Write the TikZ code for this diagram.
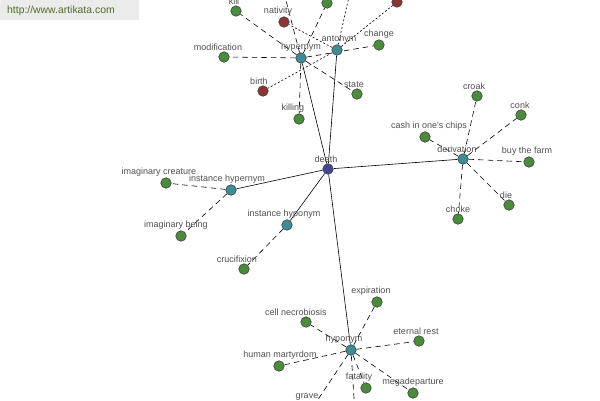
\documentclass[tikz,border=0pt]{standalone}
\usepackage{fontspec}
\setmainfont{Liberation Sans}
\newfontfamily\lblfont{Liberation Sans}
\usetikzlibrary{backgrounds}
\definecolor{leafgreen}{HTML}{4A8C3C}
\definecolor{antred}{HTML}{8C3535}
\definecolor{relteal}{HTML}{408C96}
\definecolor{rootblue}{HTML}{464696}
\definecolor{lblgray}{HTML}{505050}
\definecolor{wmgray}{HTML}{EBEBEB}
\definecolor{wmgreen}{HTML}{4E6B2C}
\begin{document}
\begin{tikzpicture}[x=1pt,y=-1pt,
  dot/.style={circle, draw=black!75, line width=0.6pt, minimum size=10.5pt, inner sep=0pt},
  leaf/.style={dot, fill=leafgreen},
  antleaf/.style={dot, fill=antred},
  rel/.style={dot, fill=relteal},
  root/.style={dot, fill=rootblue},
  lbl/.style={font=\lblfont\fontsize{9}{10}\selectfont, text=lblgray, inner sep=1pt},
  link/.style={draw=black, line width=0.6pt},
  dlink/.style={draw=black, line width=0.6pt, dash pattern=on 5.5pt off 4pt},
  alink/.style={draw=black, line width=0.6pt, dash pattern=on 2pt off 2pt}]
\useasboundingbox (0,0) rectangle (600,400);
% watermark
\fill[wmgray] (0,0) rectangle (139,20);
\node[font=\fontsize{10.4}{12}\selectfont, text=wmgreen, anchor=west, inner sep=0pt] (wm) at (7,11) {http://www.artikata.com};
% central and relation nodes
\node[root, label={[lbl,xshift=-2pt]above:death}] (death) at (328,169) {};
\node[rel, label={[lbl]above:hypernym}] (hyper) at (301,58) {};
\node[rel, label={[lbl,xshift=2pt]above:antonym}] (anto) at (337,50) {};
\node[rel, label={[lbl,xshift=-6pt]above:derivation}] (deriv) at (463,159) {};
\node[rel, label={[lbl,xshift=-4pt]above:instance hypernym}] (ihyper) at (231,190) {};
\node[rel, label={[lbl,xshift=-3pt]above:instance hyponym}] (ihypo) at (287,225) {};
\node[rel, label={[lbl,xshift=-7pt]above:hyponym}] (hypo) at (351,350) {};
% hypernym leaves
\node[leaf, label={[lbl,xshift=-2pt]above:kill}] (kill) at (236,11) {};
\node[leaf] (topg) at (327,3) {};
\node[leaf, label={[lbl,xshift=-6pt]above:modification}] (modi) at (224,57) {};
\node[leaf, label={[lbl,xshift=-6pt]above:killing}] (killing) at (299,119) {};
\node[leaf, label={[lbl,xshift=-3pt]above:state}] (state) at (357,94) {};
\node[leaf, label={[lbl]above:change}] (change) at (379,45) {};
\coordinate (hx) at (278,-30);
% antonym leaves
\node[antleaf, label={[lbl,xshift=-6pt]above:nativity}] (nativity) at (284,22) {};
\node[antleaf, label={[lbl,xshift=-4pt]above:birth}] (birth) at (263,91) {};
\node[antleaf] (redtop) at (397,2) {};
\coordinate (ax) at (355,-30);
% derivation leaves
\node[leaf, label={[lbl,xshift=-3pt]above:croak}] (croak) at (477,96) {};
\node[leaf, label={[lbl,xshift=-1pt]above:conk}] (conk) at (521,115) {};
\node[leaf, label={[lbl,xshift=4pt]above:cash in one's chips}] (cash) at (425,137) {};
\node[leaf, label={[lbl,xshift=-2pt]above:buy the farm}] (buy) at (529,162) {};
\node[leaf, label={[lbl,xshift=-3pt]above:die}] (die) at (509,205) {};
\node[leaf, label={[lbl]above:choke}] (choke) at (458,219) {};
% instance leaves
\node[leaf, label={[lbl,xshift=-7pt]above:imaginary creature}] (imagc) at (166,183) {};
\node[leaf, label={[lbl,xshift=-5pt]above:imaginary being}] (imagb) at (181,236) {};
\node[leaf, label={[lbl,xshift=-7pt]above:crucifixion}] (cruc) at (244,269) {};
% hyponym leaves
\node[leaf, label={[lbl,xshift=-6pt]above:expiration}] (expi) at (377,302) {};
\node[leaf, label={[lbl,xshift=-10pt]above:cell necrobiosis}] (cell) at (306,322) {};
\node[leaf, label={[lbl,xshift=-3pt]above:eternal rest}] (eter) at (419,341) {};
\node[leaf, label={[lbl,xshift=1pt]above:human martyrdom}] (human) at (279,366) {};
\node[leaf, label={[lbl,xshift=-7pt]above:fatality}] (fata) at (366,388) {};
\node[leaf, label={[lbl]above:megadeparture}] (mega) at (413,393) {};
\node[leaf, label={[lbl,xshift=-6pt]above:grave}] (grave) at (313,407) {};
\coordinate (bx) at (356,430);
\begin{scope}[on background layer]
\path[link] (death) -- (hyper) (death) -- (anto) (death) -- (deriv)
  (death) -- (ihyper) (death) -- (ihypo) (death) -- (hypo);
\path[dlink] (hyper) -- (kill) (hyper) -- (topg) (hyper) -- (hx) (hyper) -- (modi)
  (hyper) -- (killing) (hyper) -- (state) (hyper) -- (change);
\path[alink] (anto) -- (nativity) (anto) -- (birth) (anto) -- (redtop) (anto) -- (ax);
\path[dlink] (deriv) -- (croak) (deriv) -- (conk) (deriv) -- (cash) (deriv) -- (buy)
  (deriv) -- (die) (deriv) -- (choke);
\path[dlink] (ihyper) -- (imagc) (ihyper) -- (imagb) (ihypo) -- (cruc);
\path[dlink] (hypo) -- (expi) (hypo) -- (cell) (hypo) -- (eter) (hypo) -- (human)
  (hypo) -- (fata) (hypo) -- (mega) (hypo) -- (grave) (hypo) -- (bx);
\end{scope}
\end{tikzpicture}
\end{document}
